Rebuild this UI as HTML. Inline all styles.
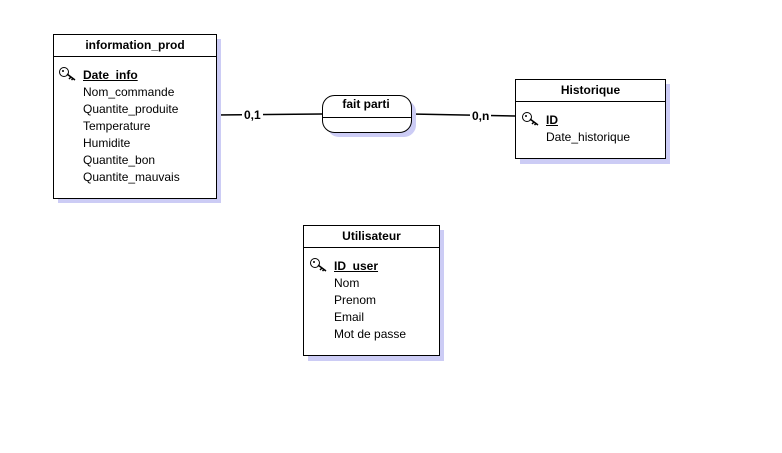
<!DOCTYPE html>
<html><head><style>
body{margin:0;width:782px;height:453px;background:#fff;position:relative;font-family:"Liberation Sans",Arial,sans-serif;font-size:12px;color:#000;overflow:hidden}
.sh{position:absolute;background:#ccccf5}
.box{position:absolute;border:1px solid #000;background:#fff;box-sizing:border-box}
.t{position:absolute;left:0;right:0;text-align:center;font-weight:bold;top:3px}
.hl{position:absolute;left:0;right:0;border-top:1px solid #000}
.r{position:absolute;white-space:nowrap;line-height:14px}
.k{font-weight:bold;text-decoration:underline}
.lbl{position:absolute;font-weight:bold;background:#fff;line-height:12px;padding:0 2px}
svg.key{position:absolute}
</style></head><body>
<svg width="782" height="453" style="position:absolute;left:0;top:0">
<line x1="216" y1="115" x2="322" y2="114" stroke="#000" stroke-width="1.5"/>
<line x1="411" y1="114" x2="515" y2="116" stroke="#000" stroke-width="1.5"/>
<rect x="327" y="100" width="89" height="37" rx="12" fill="#ccccf5"/>
<rect x="322.5" y="95.5" width="89" height="37" rx="12" fill="#fff" stroke="#000"/>
<line x1="323" y1="117.5" x2="411" y2="117.5" stroke="#000"/>
<text x="366" y="108" text-anchor="middle" font-weight="bold" font-size="12" font-family="Liberation Sans,Arial,sans-serif">fait parti</text>
</svg>
<div class="lbl" style="left:242px;top:109px">0,1</div>
<div class="lbl" style="left:470px;top:110px">0,n</div>

<div class="sh" style="left:58px;top:39px;width:163px;height:164px"></div>
<div class="box" style="left:53px;top:34px;width:164px;height:165px">
<div class="t">information_prod</div><div class="hl" style="top:21px"></div>
<svg class="key" style="left:4px;top:31px" width="20" height="16"><circle cx="6" cy="6" r="4.5" fill="#fff" stroke="#000"/><circle cx="5" cy="5" r="1" fill="#000"/><path d="M9 8 L17 14 M13 11 L11 13 M15 12.5 L13.5 14" stroke="#000" stroke-width="1.5" fill="none"/></svg>
<div class="r k" style="left:29px;top:33px">Date_info</div>
<div class="r" style="left:29px;top:50px">Nom_commande</div>
<div class="r" style="left:29px;top:67px">Quantite_produite</div>
<div class="r" style="left:29px;top:84px">Temperature</div>
<div class="r" style="left:29px;top:101px">Humidite</div>
<div class="r" style="left:29px;top:118px">Quantite_bon</div>
<div class="r" style="left:29px;top:135px">Quantite_mauvais</div>
</div>

<div class="sh" style="left:520px;top:84px;width:150px;height:80px"></div>
<div class="box" style="left:515px;top:79px;width:151px;height:80px">
<div class="t">Historique</div><div class="hl" style="top:21px"></div>
<svg class="key" style="left:5px;top:31px" width="20" height="16"><circle cx="6" cy="6" r="4.5" fill="#fff" stroke="#000"/><circle cx="5" cy="5" r="1" fill="#000"/><path d="M9 8 L17 14 M13 11 L11 13 M15 12.5 L13.5 14" stroke="#000" stroke-width="1.5" fill="none"/></svg>
<div class="r k" style="left:30px;top:33px">ID</div>
<div class="r" style="left:30px;top:50px">Date_historique</div>
</div>

<div class="sh" style="left:308px;top:230px;width:136px;height:131px"></div>
<div class="box" style="left:303px;top:225px;width:137px;height:131px">
<div class="t">Utilisateur</div><div class="hl" style="top:21px"></div>
<svg class="key" style="left:5px;top:31px" width="20" height="16"><circle cx="6" cy="6" r="4.5" fill="#fff" stroke="#000"/><circle cx="5" cy="5" r="1" fill="#000"/><path d="M9 8 L17 14 M13 11 L11 13 M15 12.5 L13.5 14" stroke="#000" stroke-width="1.5" fill="none"/></svg>
<div class="r k" style="left:30px;top:33px">ID_user</div>
<div class="r" style="left:30px;top:50px">Nom</div>
<div class="r" style="left:30px;top:67px">Prenom</div>
<div class="r" style="left:30px;top:84px">Email</div>
<div class="r" style="left:30px;top:101px">Mot de passe</div>
</div>
</body></html>
